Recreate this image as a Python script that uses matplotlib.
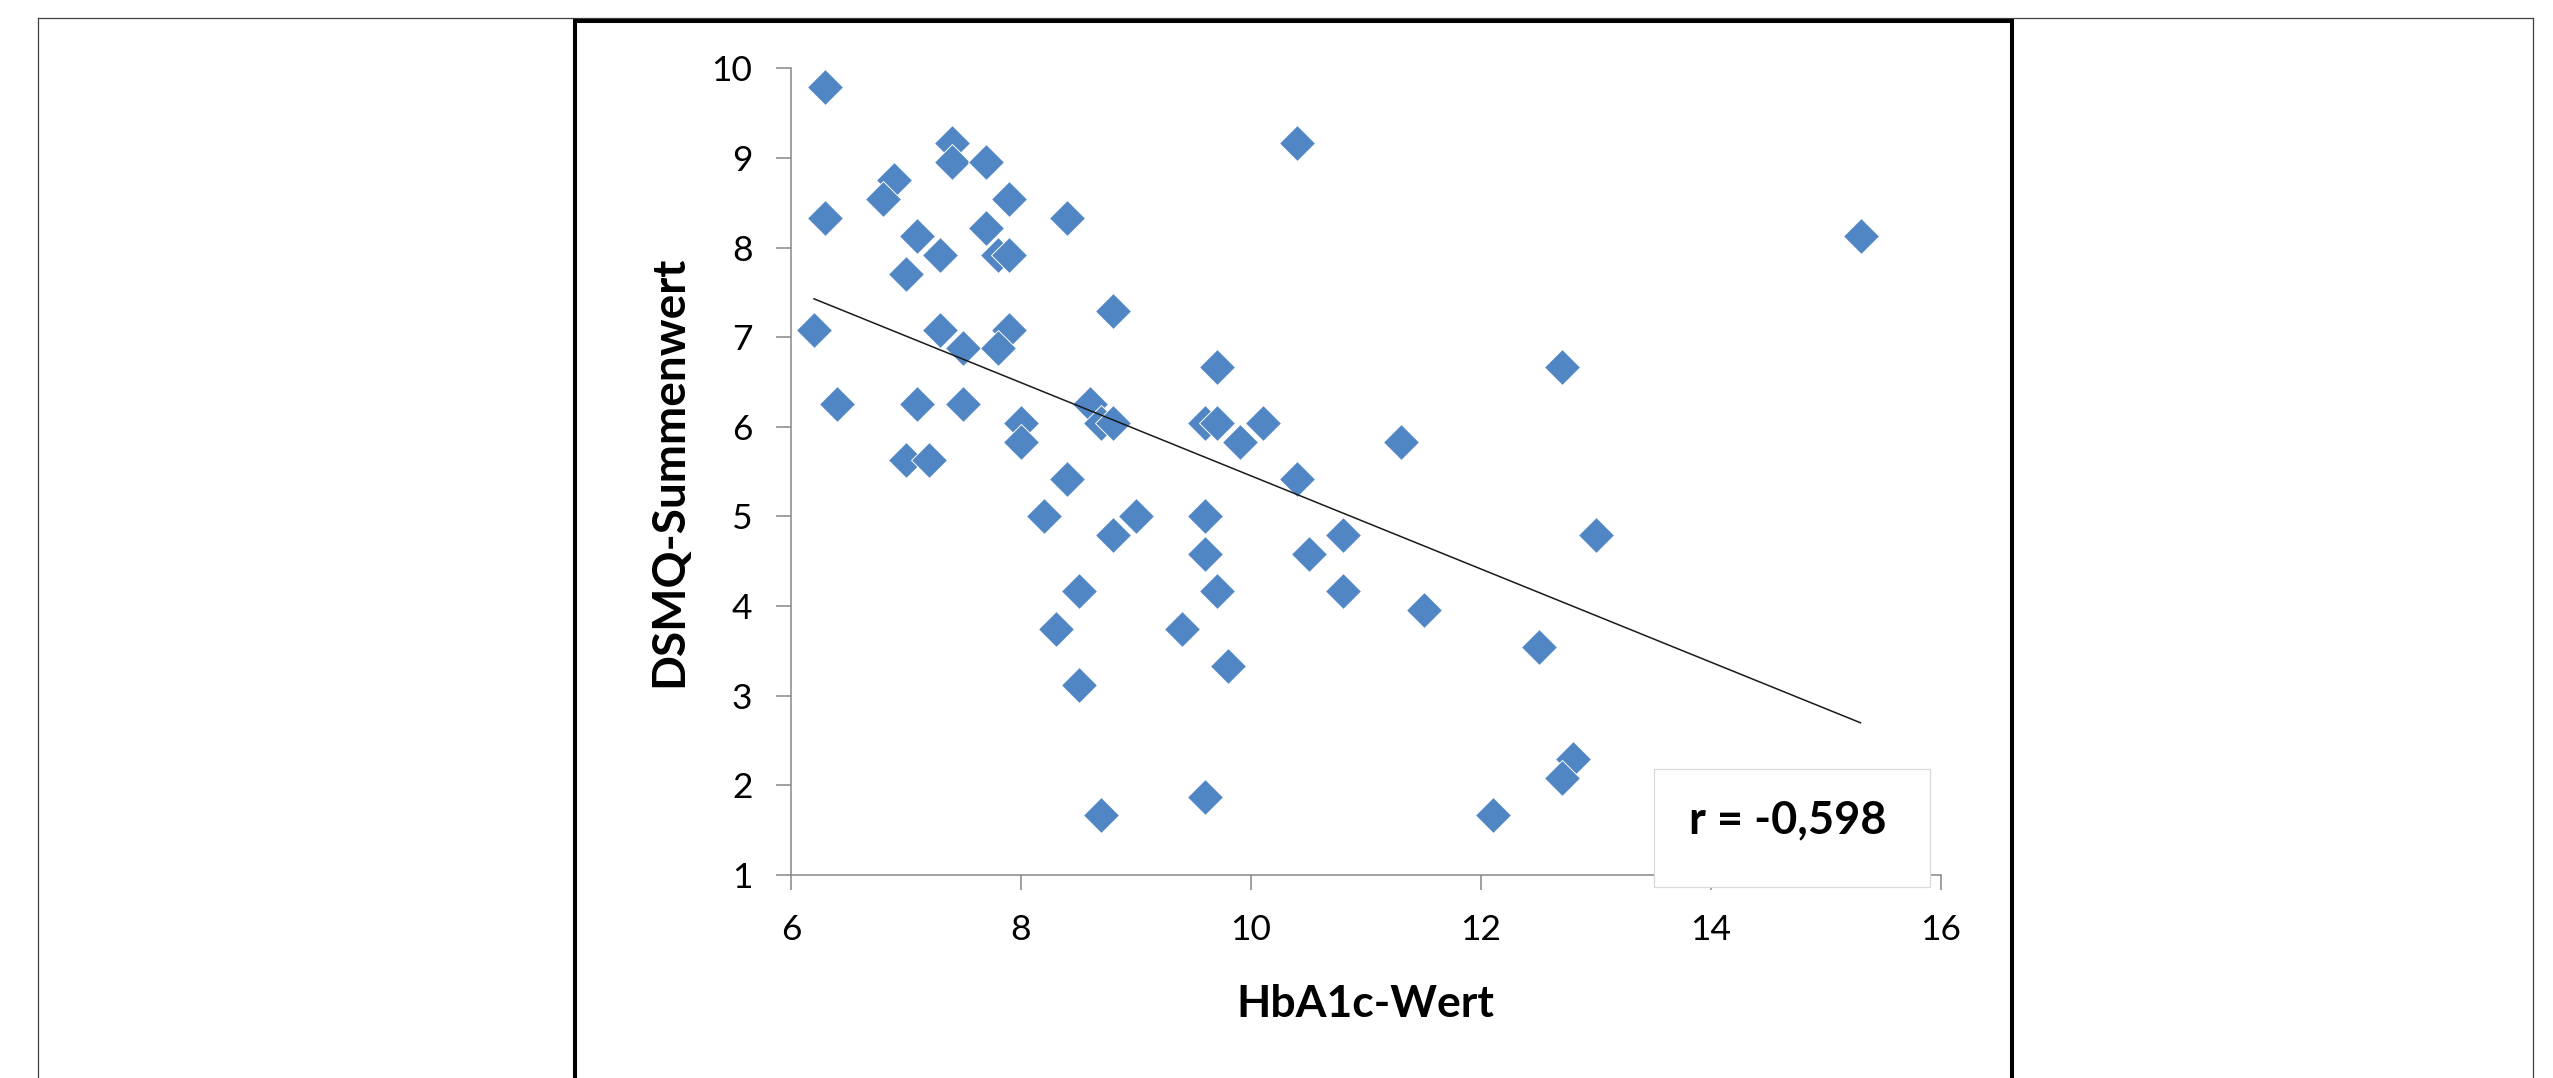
import numpy as np
import matplotlib
matplotlib.use("Agg")
import matplotlib.pyplot as plt
from matplotlib.lines import Line2D
from matplotlib.patches import Rectangle

plt.rcParams['font.family'] = ['Lato', 'DejaVu Sans']

# ---- data ----
hba1c = [6.3, 7.4, 7.4, 7.7, 6.9, 6.8, 7.9, 6.3, 8.4, 7.1,
         7.7, 7.3, 7.8, 7.9, 7.0, 8.8, 6.2, 7.3, 7.9, 7.5,
         7.8, 6.4, 7.1, 7.5, 8.0, 8.0, 8.6, 8.7, 8.8, 7.0,
         7.2, 8.4, 8.2, 8.8, 9.0, 8.5, 8.3, 8.5, 8.7, 9.4,
         9.6, 9.6, 9.7, 9.8, 9.6, 10.4, 10.5, 10.8, 10.8, 11.5,
         12.5, 12.1, 12.8, 12.7, 13.0, 10.4, 9.7, 12.7, 9.6, 9.7,
         10.1, 9.9, 11.3, 15.3]
dsmq = [9.79, 9.17, 8.96, 8.96, 8.75, 8.54, 8.54, 8.33, 8.33, 8.125,
        8.22, 7.92, 7.92, 7.92, 7.71, 7.29, 7.08, 7.08, 7.08, 6.875,
        6.875, 6.25, 6.25, 6.25, 6.04, 5.83, 6.25, 6.04, 6.04, 5.625,
        5.625, 5.42, 5.0, 4.79, 5.0, 4.17, 3.75, 3.125, 1.67, 3.75,
        5.0, 4.58, 4.17, 3.33, 1.875, 5.42, 4.58, 4.79, 4.17, 3.96,
        3.54, 1.67, 2.29, 2.08, 4.79, 9.17, 6.67, 6.67, 6.04, 6.04,
        6.04, 5.83, 5.83, 8.125]
x_ticks = [6, 8, 10, 12, 14, 16]
y_ticks = [1, 2, 3, 4, 5, 6, 7, 8, 9, 10]
x_label = "HbA1c-Wert"
y_label = "DSMQ-Summenwert"
r_label = "r = -0,598"

W, H = 2553, 1078
def fx(px):
    return px / W
def fy(py):
    return 1 - py / H

fig = plt.figure(figsize=(W / 100, H / 100), dpi=100)
fig.patch.set_facecolor('white')

# page frames
frame_kw = dict(transform=fig.transFigure, color='#404040', lw=0.9)
fig.add_artist(Line2D([fx(38), fx(38)], [fy(18), 0], **frame_kw))
fig.add_artist(Line2D([fx(38), fx(2533)], [fy(18), fy(18)], **frame_kw))
fig.add_artist(Line2D([fx(2533), fx(2533)], [fy(18), 0], **frame_kw))
fig.add_artist(Line2D([fx(575), fx(575), fx(2012), fx(2012)],
                      [0, fy(20.8), fy(20.8), 0], transform=fig.transFigure,
                      color='black', lw=2.9, solid_joinstyle='miter'))

ax = fig.add_axes([fx(791), fy(875), (1941 - 791) / W, (875 - 68.3) / H])
ax.set_xlim(6, 16)
ax.set_ylim(1, 10)
ax.set_xticks(x_ticks)
ax.set_yticks(y_ticks)
ax.set_xticklabels([str(t) for t in x_ticks])
ax.set_yticklabels([str(t) for t in y_ticks])

for s in ['top', 'right']:
    ax.spines[s].set_visible(False)
for s in ['left', 'bottom']:
    ax.spines[s].set_color('#868686')
    ax.spines[s].set_linewidth(1.1)

ax.tick_params(axis='both', which='major', direction='out', length=10.8,
               width=1.1, color='#868686', labelsize=25.5, labelcolor='black')
ax.tick_params(axis='y', pad=17)
ax.tick_params(axis='x', pad=17)

ax.plot(hba1c, dsmq, linestyle='none', marker='D', markersize=18.6,
        markerfacecolor='#4F86C3', markeredgecolor='white',
        markeredgewidth=0.7, zorder=3, clip_on=False)

coef = np.polyfit(hba1c, dsmq, 1)
xs = np.array([min(hba1c), max(hba1c)])
ax.plot(xs, np.polyval(coef, xs), color='#1a1a1a', lw=1.1, zorder=4)

# axis titles
fig.text(fx(682), fy(471), y_label, rotation=90, rotation_mode='anchor',
         ha='center', va='baseline', fontsize=33, fontweight='bold', color='black')
fig.text(fx(1365.5), fy(1016.7), x_label, ha='center', va='baseline',
         fontsize=32, fontweight='bold', color='black')

# correlation box
fig.add_artist(Rectangle((fx(1654.3), fy(886.7)), (1930 - 1654.3) / W,
                         (886.7 - 768.7) / H, transform=fig.transFigure,
                         facecolor='white', edgecolor='#d9d9d9', lw=0.9, zorder=5))
fig.text(fx(1787.5), fy(833.5), r_label, ha='center', va='baseline',
         fontsize=32.5, fontweight='bold', color='black', zorder=6)

fig.savefig('out.png', dpi=100, facecolor='white')
